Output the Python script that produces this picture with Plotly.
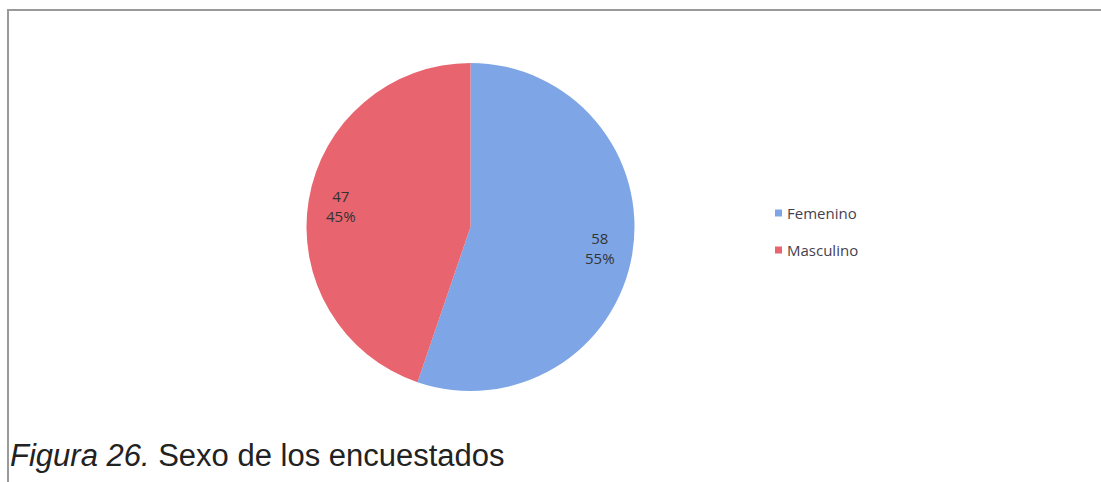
import math
import plotly.graph_objects as go

labels = ["Femenino", "Masculino"]
values = [58, 47]
colors = ["#7EA6E6", "#E8646F"]

W, H = 1101, 482

def px(x):
    return x / W

def py(y):
    return 1 - y / H

# pie geometry (pixels)
cx, cy, r = 470.5, 227.0, 164.0

fig = go.Figure()
fig.add_trace(go.Pie(
    labels=labels,
    values=values,
    sort=False,
    direction="clockwise",
    rotation=0,
    marker=dict(colors=colors, line=dict(width=0)),
    textinfo="none",
    domain=dict(x=[px(cx - r), px(cx + r)], y=[py(cy + r), py(cy - r)]),
    showlegend=False,
    hoverinfo="label+value+percent",
))

shapes = []
annotations = []
# frame lines
shapes.append(dict(type="line", xref="paper", yref="paper", x0=px(7), x1=1, y0=py(10), y1=py(10),
                   line=dict(color="#9a9a9a", width=2)))
shapes.append(dict(type="line", xref="paper", yref="paper", x0=px(8), x1=px(8), y0=py(10), y1=0,
                   line=dict(color="#9a9a9a", width=2)))

# data labels placed at the slice mid-angle, derived from the values
total = sum(values)
cum = 0
for v in values:
    mid = (cum + v / 2) / total * 2 * math.pi  # clockwise from 12 o'clock
    cum += v
    lx = cx + 0.8 * r * math.sin(mid)
    ly = cy - 0.8 * r * math.cos(mid)
    annotations.append(dict(text=f"{v}<br>{round(100 * v / total)}%", xref="paper", yref="paper",
                            x=px(lx), y=py(ly), xanchor="center", yanchor="middle", showarrow=False,
                            align="center",
                            font=dict(family="Open Sans", size=15, color="#333333")))

# manual legend
leg_y = [213, 250]
for i, lab in enumerate(labels):
    shapes.append(dict(type="rect", xref="paper", yref="paper",
                       x0=px(775), x1=px(782), y0=py(leg_y[i] + 3.5), y1=py(leg_y[i] - 3.5),
                       fillcolor=colors[i], line=dict(width=0)))
    annotations.append(dict(text=lab, xref="paper", yref="paper", x=px(785), y=py(leg_y[i]),
                            xanchor="left", yanchor="middle", showarrow=False,
                            font=dict(family="Open Sans", size=15, color="#453f4d")))

annotations.append(dict(text="<i>Figura 26.</i> Sexo de los encuestados", xref="paper", yref="paper",
                        x=px(8), y=py(455), xanchor="left", yanchor="middle", showarrow=False,
                        font=dict(family="Liberation Sans", size=31, color="#222222")))

fig.update_layout(
    width=W, height=H,
    margin=dict(l=0, r=0, t=0, b=0),
    paper_bgcolor="white",
    plot_bgcolor="white",
    shapes=shapes,
    annotations=annotations,
)

fig.write_html("out.html")
